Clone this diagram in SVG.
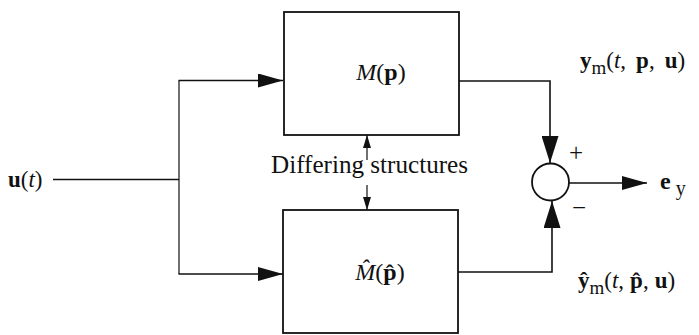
<svg xmlns="http://www.w3.org/2000/svg" width="699" height="335" viewBox="0 0 699 335">
  <style>
    .box { fill: #fff; stroke: #111; stroke-width: 1.8; }
    .wire { fill: none; stroke: #111; stroke-width: 1.6; }
    .thin { fill: none; stroke: #111; stroke-width: 1.2; }
    .t { font-family: "Liberation Serif", "Times New Roman", serif; fill: #111; }
    .b { font-weight: bold; }
    .i { font-style: italic; }
  </style>
  <defs>
    <marker id="arrow" markerUnits="userSpaceOnUse" markerWidth="25" markerHeight="14" refX="25" refY="7" orient="auto">
      <path d="M0,0 L25,7 L0,14 Z" fill="#111"/>
    </marker>
    <marker id="arrowSum" markerUnits="userSpaceOnUse" markerWidth="27" markerHeight="17" refX="27" refY="8.5" orient="auto">
      <path d="M0,0 L27,8.5 L0,17 Z" fill="#111"/>
    </marker>
    <marker id="arrowSmall" markerUnits="userSpaceOnUse" markerWidth="13" markerHeight="8" refX="13" refY="4" orient="auto">
      <path d="M0,0 L13,4 L0,8 Z" fill="#111"/>
    </marker>
  </defs>

  <!-- connectors -->
  <g id="connectors">
    <!-- input feed and split -->
    <path class="wire" d="M53,179.5 H179"/>
    <path class="thin" d="M179,80.5 V274"/>
    <path class="wire" d="M178.5,80.5 H283" marker-end="url(#arrow)"/>
    <path class="wire" d="M178.5,274 H283" marker-end="url(#arrow)"/>
    <!-- model outputs into the summing junction -->
    <path class="wire" d="M459,81 H550 V163" marker-end="url(#arrowSum)"/>
    <path class="wire" d="M458,272 H552 V201" marker-end="url(#arrowSum)"/>
    <!-- error output -->
    <path class="wire" d="M569,183 H647" marker-end="url(#arrow)"/>
    <!-- structure difference pointers -->
    <path class="thin" d="M367,160 V135" marker-end="url(#arrowSmall)"/>
    <path class="thin" d="M367,185 V210" marker-end="url(#arrowSmall)"/>
  </g>

  <!-- true model -->
  <g id="model">
    <rect class="box" x="284" y="12" width="175" height="123"/>
    <text class="t" x="381" y="80" font-size="24" text-anchor="middle"><tspan class="i">M</tspan>(<tspan class="b">p</tspan>)</text>
  </g>

  <!-- estimated model -->
  <g id="estimate">
    <rect class="box" x="283" y="210" width="175" height="123"/>
    <text class="t" x="380" y="280" font-size="24" text-anchor="middle"><tspan class="i">M̂</tspan>(<tspan class="b">p̂</tspan>)</text>
  </g>

  <!-- summing junction -->
  <g id="sum">
    <circle cx="550.5" cy="182" r="18.5" fill="#fff" stroke="#111" stroke-width="1.8"/>
    <text class="t" x="576" y="161" font-size="25" text-anchor="middle">+</text>
    <text class="t" x="579" y="216" font-size="25" text-anchor="middle">−</text>
  </g>

  <!-- labels -->
  <g id="labels">
    <text class="t" x="8" y="187" font-size="23"><tspan class="b">u</tspan>(<tspan class="i">t</tspan>)</text>
    <text class="t" x="271" y="173" font-size="25" textLength="197" lengthAdjust="spacingAndGlyphs">Differing structures</text>
    <text class="t" x="580" y="68" font-size="23"><tspan class="b">y</tspan><tspan font-size="19" dy="6">m</tspan><tspan dy="-6">(</tspan><tspan class="i">t</tspan>,<tspan class="b" dx="10">p</tspan>,<tspan class="b" dx="10">u</tspan>)</text>
    <text class="t" x="660" y="189" font-size="24"><tspan class="b">e</tspan><tspan font-size="20" dx="5" dy="6">y</tspan></text>
    <text class="t" x="578" y="288" font-size="23"><tspan class="b">ŷ</tspan><tspan font-size="19" dy="6">m</tspan><tspan dy="-6">(</tspan><tspan class="i">t</tspan>,<tspan class="b" dx="6">p̂</tspan>,<tspan class="b" dx="6">u</tspan>)</text>
  </g>
</svg>
